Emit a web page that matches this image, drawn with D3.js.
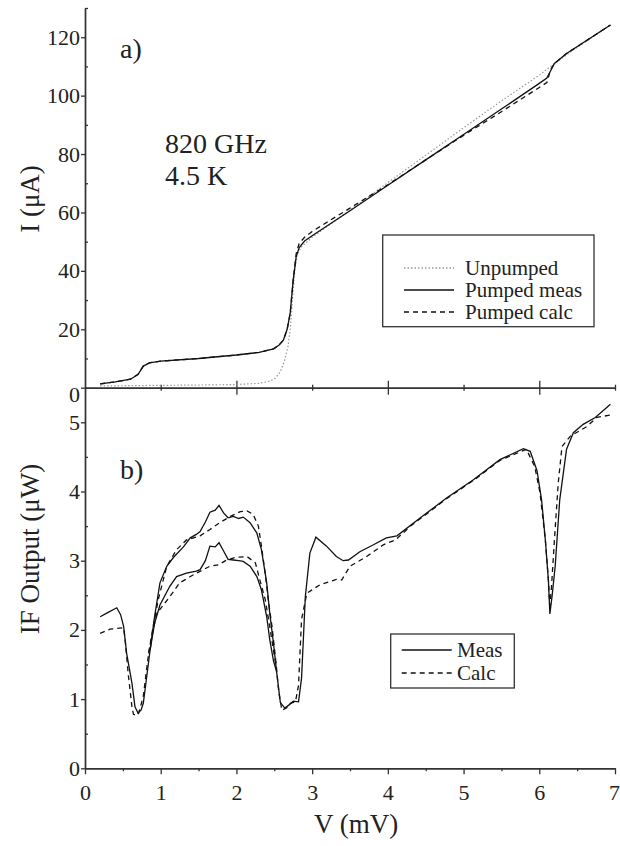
<!DOCTYPE html>
<html>
<head>
<meta charset="utf-8">
<script src="https://cdn.jsdelivr.net/npm/d3@7"></script>
<style>
  body { margin: 0; background: #fff; }
  svg text { font-family: "Liberation Serif", "Times New Roman", serif; fill: #222; }
</style>
</head>
<body>
<div id="chart"></div>
<script>
// panel a) I-V curves
const vUnpumped = [0.2, 0.6, 1.0, 1.5, 2.0, 2.3, 2.45, 2.52, 2.58, 2.63, 2.68, 2.71, 2.74, 2.77, 2.8, 2.85, 3.0, 3.5, 4.0, 4.5, 5.0, 5.5, 6.0, 6.15, 6.2, 6.5, 6.94];
const iUnpumped = [0.6, 0.7, 0.8, 0.9, 1.1, 1.5, 2.3, 3.4, 5.5, 8.8, 14, 19.8, 30, 40, 45, 48, 51.5, 60.8, 70.2, 79.6, 89.0, 98.2, 107, 110, 111, 116.5, 124.2];

const vPumped = [0.2, 0.4, 0.6, 0.7, 0.77, 0.85, 1.0, 1.5, 2.0, 2.3, 2.49, 2.56, 2.62, 2.67, 2.71, 2.75, 2.79, 2.83, 2.9, 3.0, 3.5, 4.0, 4.5, 5.0, 5.5, 6.0, 6.1, 6.15, 6.2, 6.36, 6.94];
const iPumpedMeas = [1.3, 2.0, 2.9, 4.5, 7.4, 8.5, 9.1, 10.0, 11.2, 12.1, 13.3, 14.5, 16.3, 20, 25.5, 36.9, 45, 48, 50.2, 52, 60.6, 69.3, 78, 86.7, 95.4, 104.2, 106, 108.5, 111, 114.4, 124.2];
const iPumpedCalc = [1.3, 2.0, 2.9, 4.6, 7.4, 8.5, 9.1, 10.0, 11.2, 12.1, 13.3, 14.5, 16.3, 20, 25.5, 37, 46, 49.5, 51.5, 53.5, 61.5, 69.5, 78, 86.4, 94.5, 102.8, 104.5, 109, 111, 114.4, 124.2];

// panel b) IF output, upper and lower branches
const vMeasA = [0.2, 0.3, 0.42, 0.47, 0.51, 0.55, 0.62, 0.66, 0.70, 0.74, 0.77, 0.81, 0.86, 0.92, 0.99, 1.08, 1.17, 1.30, 1.39, 1.47, 1.52, 1.59, 1.65, 1.72, 1.77, 1.83, 1.89, 1.96, 2.03, 2.09, 2.18, 2.27, 2.33, 2.40, 2.44, 2.49, 2.53, 2.58, 2.64, 2.70, 2.75, 2.82, 2.86, 2.91, 2.97, 3.05, 3.19, 3.32, 3.41, 3.48, 3.63, 3.81, 3.98, 4.12, 4.43, 4.78, 5.13, 5.48, 5.79, 5.88, 5.97, 6.03, 6.08, 6.12, 6.14, 6.17, 6.21, 6.27, 6.36, 6.45, 6.58, 6.74, 6.94];
const pMeasA = [2.19, 2.25, 2.32, 2.22, 2.05, 1.66, 1.23, 0.89, 0.80, 0.84, 0.94, 1.28, 1.71, 2.2, 2.68, 2.92, 3.05, 3.2, 3.33, 3.38, 3.42, 3.56, 3.70, 3.73, 3.80, 3.69, 3.62, 3.64, 3.61, 3.63, 3.55, 3.40, 3.16, 2.68, 2.24, 1.8, 1.4, 0.95, 0.87, 0.92, 0.97, 0.96, 1.3, 2.48, 3.11, 3.34, 3.21, 3.06, 3.0, 3.01, 3.13, 3.23, 3.33, 3.36, 3.62, 3.91, 4.17, 4.46, 4.62, 4.58, 4.3, 3.88, 3.30, 2.72, 2.23, 2.5, 2.92, 3.88, 4.61, 4.85, 4.97, 5.07, 5.26];
const vMeasB = [0.86, 0.92, 0.99, 1.12, 1.21, 1.34, 1.47, 1.52, 1.59, 1.65, 1.72, 1.77, 1.83, 1.89, 1.96, 2.03, 2.09, 2.18, 2.27, 2.33, 2.40, 2.44, 2.49, 2.53];
const pMeasB = [1.71, 2.1, 2.36, 2.63, 2.77, 2.82, 2.85, 2.87, 3.0, 3.21, 3.20, 3.26, 3.14, 3.02, 3.01, 3.0, 2.99, 2.92, 2.77, 2.58, 2.19, 1.86, 1.55, 1.4];

const vCalcA = [0.2, 0.33, 0.51, 0.53, 0.57, 0.62, 0.64, 0.68, 0.71, 0.77, 0.84, 0.9, 0.97, 1.08, 1.21, 1.34, 1.52, 1.65, 1.78, 1.92, 2.05, 2.14, 2.22, 2.29, 2.33, 2.38, 2.42, 2.47, 2.52, 2.56, 2.60, 2.66, 2.71, 2.78, 2.82, 2.86, 2.93, 3.10, 3.32, 3.39, 3.50, 3.72, 3.94, 4.10, 4.3, 4.78, 5.13, 5.48, 5.83, 5.94, 6.01, 6.08, 6.12, 6.14, 6.16, 6.20, 6.25, 6.30, 6.41, 6.63, 6.76, 6.96];
const pCalcA = [1.95, 2.01, 2.03, 1.86, 1.37, 0.89, 0.78, 0.76, 0.8, 1.04, 1.66, 2.05, 2.45, 2.92, 3.16, 3.30, 3.36, 3.45, 3.55, 3.64, 3.71, 3.72, 3.67, 3.50, 3.21, 2.82, 2.44, 2.05, 1.55, 1.1, 0.84, 0.87, 0.94, 0.96, 1.2, 2.15, 2.53, 2.65, 2.73, 2.72, 2.92, 3.06, 3.23, 3.30, 3.50, 3.9, 4.16, 4.45, 4.61, 4.36, 3.98, 3.30, 2.72, 2.35, 2.6, 3.30, 4.12, 4.65, 4.80, 4.94, 5.07, 5.11];
const vCalcB = [0.84, 0.9, 0.95, 1.12, 1.25, 1.47, 1.65, 1.76, 1.87, 2.00, 2.14, 2.25, 2.31, 2.38, 2.44, 2.49, 2.53];
const pCalcB = [1.66, 2.0, 2.24, 2.48, 2.68, 2.82, 2.92, 2.94, 3.01, 3.05, 3.06, 2.97, 2.72, 2.44, 2.05, 1.7, 1.45];

const xTicks = [0, 1, 2, 3, 4, 5, 6, 7];
const iTicks = [0, 20, 40, 60, 80, 100, 120];
const pTicks = [0, 1, 2, 3, 4, 5];

const width = 620, height = 846;
const left = 85, right = 615, topY = 8, midY = 387.7, bottomY = 768.3;
const ink = "#111", axisInk = "#333";

const svg = d3.select("#chart").append("svg")
  .attr("width", width)
  .attr("height", height);

const x = d3.scaleLinear().domain([0, 7]).range([left, right]);
const yTop = d3.scaleLinear().domain([0, 130]).range([midY, topY]);
const yBot = d3.scaleLinear().domain([0, 5.5]).range([bottomY, midY]);

const zip = (xs, ys) => xs.map((v, i) => [v, ys[i]]);
const lineTop = d3.line().x(d => x(d[0])).y(d => yTop(d[1]));
const lineBot = d3.line().x(d => x(d[0])).y(d => yBot(d[1]));
const intFmt = d3.format("d");

function styleAxis(g, fontSize) {
  g.select(".domain").attr("stroke", axisInk).attr("stroke-width", 1.4);
  g.selectAll(".tick line").attr("stroke", axisInk).attr("stroke-width", 1.3);
  g.selectAll(".tick text")
    .attr("font-size", fontSize)
    .attr("fill", "#222");
}

// ---- panel a) axes
const yTopAxis = svg.append("g").attr("transform", `translate(${left},0)`)
  .call(d3.axisLeft(yTop).tickValues(iTicks).tickFormat(intFmt).tickSize(4).tickSizeOuter(0).tickPadding(1));
styleAxis(yTopAxis, 22);
yTopAxis.selectAll(".tick text").filter(d => d === 0).attr("dy", "0.62em");

svg.append("g").attr("transform", `translate(${left},0)`)
  .call(d3.axisRight(yTop).tickValues([10, 30, 50, 70, 90, 110, 130]).tickSize(3).tickSizeOuter(0).tickFormat(""))
  .call(g => styleAxis(g, 22));

// top x axis: ticks crossing the shared line
svg.append("g").attr("transform", `translate(0,${midY})`)
  .call(d3.axisBottom(x).tickValues([2, 4, 6]).tickSize(7).tickSizeOuter(0).tickFormat(""))
  .call(g => styleAxis(g, 22))
  .selectAll(".tick line").attr("y1", -7);
svg.append("g").attr("transform", `translate(0,${midY})`)
  .call(d3.axisBottom(x).tickValues([1, 3, 5, 7]).tickSize(3).tickSizeOuter(0).tickFormat(""))
  .call(g => styleAxis(g, 22))
  .selectAll(".tick line").attr("y1", -3);

// ---- panel b) axes
const yBotAxis = svg.append("g").attr("transform", `translate(${left},0)`)
  .call(d3.axisLeft(yBot).tickValues(pTicks).tickFormat(intFmt).tickSize(4).tickSizeOuter(0).tickPadding(1));
styleAxis(yBotAxis, 22);
svg.append("g").attr("transform", `translate(${left},0)`)
  .call(d3.axisRight(yBot).tickValues([0.5, 1.5, 2.5, 3.5, 4.5]).tickSize(3).tickSizeOuter(0).tickFormat(""))
  .call(g => styleAxis(g, 22));

const xBotAxis = svg.append("g").attr("transform", `translate(0,${bottomY})`)
  .call(d3.axisBottom(x).tickValues(xTicks).tickFormat(intFmt).tickSize(6).tickSizeOuter(0).tickPadding(10));
styleAxis(xBotAxis, 22);
xBotAxis.selectAll(".tick text").filter(d => d === 7).attr("dx", "-1");
svg.append("g").attr("transform", `translate(0,${bottomY})`)
  .call(d3.axisBottom(x).tickValues([0.5, 1.5, 2.5, 3.5, 4.5, 5.5, 6.5]).tickSize(3).tickSizeOuter(0).tickFormat(""))
  .call(g => styleAxis(g, 22));

// ---- curves
svg.append("path").datum(zip(vUnpumped, iUnpumped))
  .attr("d", lineTop).attr("fill", "none")
  .attr("stroke", "#999").attr("stroke-width", 1.2).attr("stroke-dasharray", "1.5,2");
svg.append("path").datum(zip(vPumped, iPumpedMeas))
  .attr("d", lineTop).attr("fill", "none")
  .attr("stroke", ink).attr("stroke-width", 1.3);
svg.append("path").datum(zip(vPumped, iPumpedCalc))
  .attr("d", lineTop).attr("fill", "none")
  .attr("stroke", ink).attr("stroke-width", 1.3).attr("stroke-dasharray", "5,4");

[[vMeasA, pMeasA, null], [vMeasB, pMeasB, null], [vCalcA, pCalcA, "5,4"], [vCalcB, pCalcB, "5,4"]]
  .forEach(([vs, ps, dash]) => {
    svg.append("path").datum(zip(vs, ps))
      .attr("d", lineBot).attr("fill", "none")
      .attr("stroke", ink).attr("stroke-width", 1.3)
      .attr("stroke-dasharray", dash);
  });

// ---- titles and notes
svg.append("text").attr("transform", "translate(39,199) rotate(-90)")
  .attr("text-anchor", "middle").attr("font-size", 27).text("I (μA)");
svg.append("text").attr("transform", "translate(39,549) rotate(-90)")
  .attr("text-anchor", "middle").attr("font-size", 27).text("IF Output (μW)");
svg.append("text").attr("x", 356).attr("y", 833)
  .attr("text-anchor", "middle").attr("font-size", 27).text("V (mV)");

svg.append("text").attr("x", 120).attr("y", 58).attr("font-size", 28).text("a)");
svg.append("text").attr("x", 165).attr("y", 153).attr("font-size", 28).text("820 GHz");
svg.append("text").attr("x", 165).attr("y", 185).attr("font-size", 28).text("4.5 K");
svg.append("text").attr("x", 120).attr("y", 479).attr("font-size", 28).text("b)");

// ---- legends
function legend(box, items) {
  const g = svg.append("g");
  g.append("rect").attr("x", box.x).attr("y", box.y).attr("width", box.w).attr("height", box.h)
    .attr("fill", "#fff").attr("stroke", axisInk).attr("stroke-width", 1.3);
  items.forEach(it => {
    g.append("line").attr("x1", box.lx1).attr("x2", box.lx2)
      .attr("y1", it.y - 7).attr("y2", it.y - 7)
      .attr("stroke", it.color || ink).attr("stroke-width", 1.3)
      .attr("stroke-dasharray", it.dash);
    g.append("text").attr("x", box.tx).attr("y", it.y).attr("font-size", 21).text(it.label);
  });
}

legend({ x: 382.7, y: 235, w: 211.3, h: 91.7, lx1: 404, lx2: 454, tx: 465 }, [
  { label: "Unpumped", y: 275, dash: "1.5,2", color: "#999" },
  { label: "Pumped meas", y: 297, dash: null },
  { label: "Pumped calc", y: 319, dash: "5,4" }
]);
legend({ x: 390.7, y: 634, w: 123.6, h: 54, lx1: 401.7, lx2: 451.7, tx: 457 }, [
  { label: "Meas", y: 657, dash: null },
  { label: "Calc", y: 680, dash: "5,4" }
]);
</script>
</body>
</html>
